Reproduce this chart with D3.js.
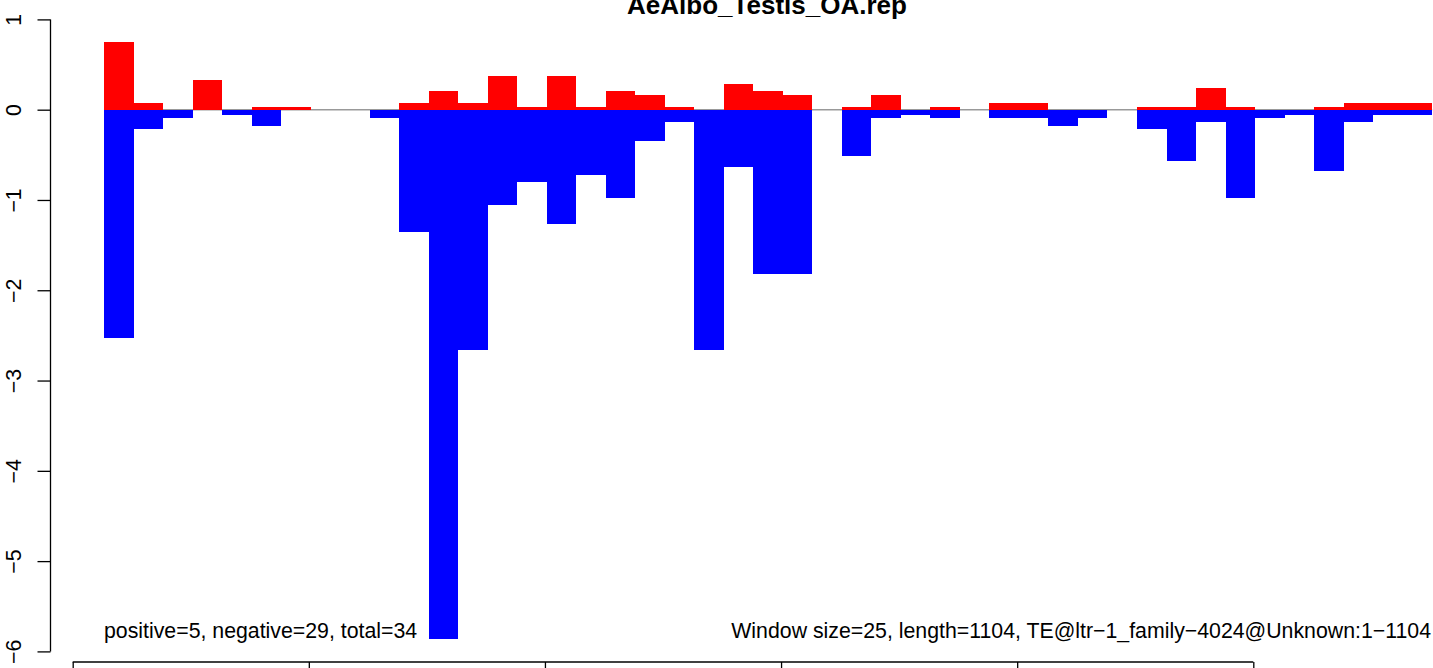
<!DOCTYPE html>
<html><head><meta charset="utf-8">
<script src="https://cdn.jsdelivr.net/npm/d3@7"></script>
<style>body{margin:0;background:#fff}svg{display:block}text{font-family:"Liberation Sans",Arial,Helvetica,sans-serif}</style>
</head><body>
<svg id="c" width="1433" height="668"></svg>
<script>
const title = "AeAlbo_Testis_OA.rep";
const windowSize = 25;
const positive = [0.752,0.077,0,0.332,0,0.033,0.033,0,0,0,0.077,0.21,0.077,0.376,0.033,0.376,0.033,0.21,0.166,0.033,0,0.288,0.21,0.166,0,0.033,0.166,0,0.033,0,0.077,0.077,0,0,0,0.033,0.033,0.243,0.033,0,0,0.033,0.077,0.077,0.077];
const negative = [-2.53,-0.218,-0.096,0,-0.055,-0.177,0,0,0,-0.096,-1.357,-5.86,-2.66,-1.06,-0.80,-1.27,-0.727,-0.98,-0.35,-0.14,-2.66,-0.64,-1.82,-1.82,0,-0.517,-0.096,-0.055,-0.096,0,-0.096,-0.096,-0.177,-0.096,0,-0.218,-0.564,-0.14,-0.98,-0.096,-0.055,-0.68,-0.14,-0.055,-0.055];
const yTicks = [1,0,-1,-2,-3,-4,-5,-6];
const xTicks = [0,200,400,600,800,1000];
const leftNote = "positive=5, negative=29, total=34";
const rightNote = "Window size=25, length=1104, TE@ltr\u22121_family\u22124024@Unknown:1\u22121104";

const svg = d3.select("#c");
const x = d3.scaleLinear().domain([0,1000]).range([72.7,1253.3]);
const y = d3.scaleLinear().domain([-6,1]).range([651.4,19.4]);
const barStart = 26.5; // offset of first window on x axis

// zero line
svg.append("line").attr("x1", x(barStart)).attr("x2", x(barStart + windowSize*positive.length))
  .attr("y1", y(0)).attr("y2", y(0)).attr("stroke","#999").attr("stroke-width",1.5);

const idx = d3.range(positive.length);
const bx0 = i => Math.round(x(barStart + i*windowSize));
const bx1 = i => Math.round(x(barStart + (i+1)*windowSize));
svg.append("g").attr("shape-rendering","crispEdges").selectAll("rect").data(idx).join("rect")
  .attr("x", bx0)
  .attr("width", i => bx1(i) - bx0(i))
  .attr("y", i => y(positive[i]))
  .attr("height", i => y(0) - y(positive[i]))
  .attr("fill", "#ff0000");
svg.append("g").attr("shape-rendering","crispEdges").selectAll("rect").data(idx).join("rect")
  .attr("x", bx0)
  .attr("width", i => bx1(i) - bx0(i))
  .attr("y", y(0))
  .attr("height", i => y(negative[i]) - y(0))
  .attr("fill", "#0000ff");

// y axis
const ya = svg.append("g").attr("transform","translate(50.5,0)")
  .call(d3.axisLeft(y).tickValues(yTicks).tickSize(13).tickFormat(d => d < 0 ? "\u2212" + Math.abs(d) : d));
ya.select(".domain").attr("d", `M-0,${y(1)}V${y(-6)}`).attr("stroke","#000").attr("stroke-width",1.3);
ya.selectAll(".tick line").attr("stroke","#000").attr("stroke-width",1.3);
ya.selectAll(".tick text").attr("transform", `translate(-30,0) rotate(-90)`)
  .attr("x",0).attr("y",0).attr("dy",0).attr("text-anchor","middle")
  .style("font-size","21.3px").attr("fill","#000");

// x axis (tick labels fall outside the picture in the reference)
const xa = svg.append("g").attr("transform","translate(0,662)")
  .call(d3.axisBottom(x).tickValues(xTicks).tickSize(13).tickFormat(""));
xa.select(".domain").attr("d", `M${x(0)},0H${x(1000)}`).attr("stroke","#000").attr("stroke-width",1.3);
xa.selectAll(".tick line").attr("stroke","#000").attr("stroke-width",1.3);

// title
svg.append("text").attr("x", 767).attr("y", 13.5).attr("text-anchor","middle")
  .style("font-size","26px").style("font-weight","bold").text(title);
svg.append("text").attr("x", 104).attr("y", 638).style("font-size","21.3px").text(leftNote);
svg.append("text").attr("x", 1431).attr("y", 638).attr("text-anchor","end").style("font-size","21.3px").text(rightNote);
</script>
</body></html>
